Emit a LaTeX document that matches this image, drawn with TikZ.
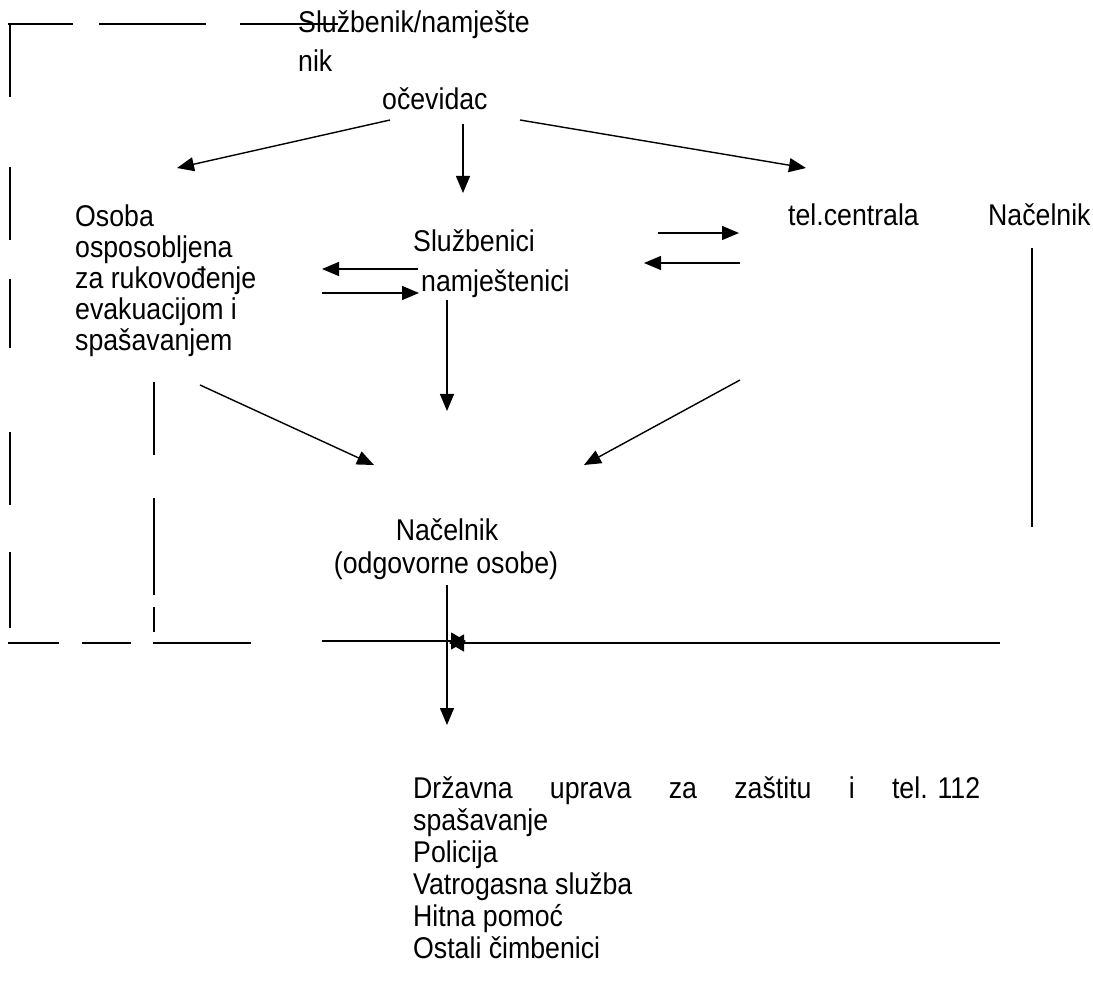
\documentclass[tikz,border=0pt]{standalone}
\usepackage{fontspec}
\setmainfont{Liberation Sans}[FakeStretch=0.89]
\usetikzlibrary{arrows.meta}
\begin{document}
\begin{tikzpicture}[x=1pt,y=-1pt,
  ln/.style={line width=1.4pt},
  arr/.style={ln,-{Triangle[length=17pt,width=14pt]}},
  sarr/.style={ln,-{Triangle[length=15pt,width=17pt]}},
  txt/.style={font=\fontsize{30}{32}\selectfont,inner sep=0pt,anchor=base west,align=left}]
\useasboundingbox (0,0) rectangle (1093,992);
% texts
\node[txt] (sluz) at (298,33) {Službenik/namješte};
\node[txt] (nik) at (298,72) {nik};
\node[txt] (oce) at (382,110) {očevidac};
\node[txt] (osoba) at (75,227) {\parbox[t]{260pt}{\fontsize{30}{31}\selectfont\raggedright Osoba\\osposobljena\\za rukovođenje\\evakuacijom i\\spašavanjem}};
\node[txt] (sn1) at (413,252) {Službenici};
\node[txt] (sn2) at (421,292) {namještenici};
\node[txt] (tel) at (788,226) {tel.centrala};
\node[txt] (nac1) at (988,226) {Načelnik};
\node[txt,anchor=base] (nac2) at (447,540) {Načelnik};
\node[txt,anchor=base] (odg) at (446,573) {(odgovorne osobe)};
\node[txt,anchor=north west] (drz) at (413,776) {\parbox[t]{567pt}{Državna uprava za zaštitu i \hbox{tel. 112}\linebreak spašavanje\\Policija\\Vatrogasna služba\\Hitna pomoć\\Ostali čimbenici}};
% coordinates
\coordinate (o1) at (390,120); \coordinate (t1) at (177,168);
\coordinate (o2) at (463,124); \coordinate (t2) at (463,193);
\coordinate (o3) at (520,120); \coordinate (t3) at (806,168);
\coordinate (lp1) at (418,269); \coordinate (lp2) at (322,269);
\coordinate (lp3) at (322,293); \coordinate (lp4) at (419,293);
\coordinate (rp1) at (658,233); \coordinate (rp2) at (739,233);
\coordinate (rp3) at (740,263); \coordinate (rp4) at (644,263);
\coordinate (sd1) at (447,300); \coordinate (sd2) at (447,411);
\coordinate (dl1) at (200,385); \coordinate (dl2) at (374,465);
\coordinate (dr1) at (740,380); \coordinate (dr2) at (584,465);
\coordinate (nd1) at (447,585); \coordinate (nd2) at (447,725);
\coordinate (jl) at (322,641); \coordinate (jlt) at (466,641);
\coordinate (jr) at (1000,643); \coordinate (jrt) at (449,643);
% arrows
\draw[arr] (o1) -- (t1);
\draw[arr] (o2) -- (t2);
\draw[arr] (o3) -- (t3);
\draw[arr] (lp1) -- (lp2);
\draw[arr] (lp3) -- (lp4);
\draw[arr] (rp1) -- (rp2);
\draw[arr] (rp3) -- (rp4);
\draw[arr] (sd1) -- (sd2);
\draw[arr] (dl1) -- (dl2);
\draw[arr] (dr1) -- (dr2);
\draw[arr] (nd1) -- (nd2);
\draw[sarr] (jl) -- (jlt);
\draw[sarr] (jr) -- (jrt);
% frame pieces
\draw[ln] (8,24) -- (73,24) (99,24) -- (206,24) (240,24) -- (338,24);
\draw[ln] (10,24) -- (10,97) (10,167) -- (10,240) (10,279) -- (10,348) (10,432) -- (10,505) (10,552) -- (10,628);
\draw[ln] (154,382) -- (154,455) (154,498) -- (154,595) (154,607) -- (154,632);
\draw[ln] (8,643) -- (59,643) (82,643) -- (131,643) (153,643) -- (251,643);
\draw[ln] (1032,248) -- (1032,527);
\end{tikzpicture}
\end{document}
